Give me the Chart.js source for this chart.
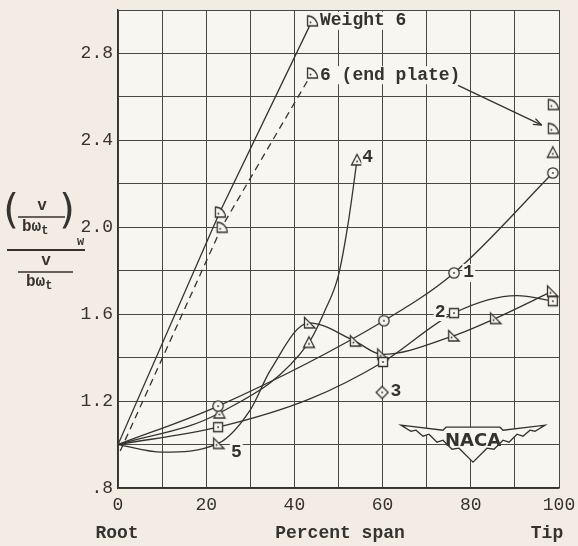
<!DOCTYPE html>
<html>
<head>
<meta charset="utf-8">
<script src="https://cdn.jsdelivr.net/npm/chart.js@4.4.1/dist/chart.umd.min.js"></script>
<style>
  html, body { margin: 0; padding: 0; background: #f2ece4; }
  #wrap { width: 578px; height: 546px; }
</style>
</head>
<body>
<div id="wrap"><canvas id="myChart" width="578" height="546"></canvas></div>
<script>
(() => {
  'use strict'

  // tick labels
  var x_tick_labels = [0, 20, 40, 60, 80, 100]
  var y_tick_labels = [0.8, 1.2, 1.6, 2.0, 2.4, 2.8]

  // Weight 6 (solid) and 6 with end plate (dashed)
  var w6_x = [0, 23.1, 44]
  var w6_y = [1.0, 2.07, 2.95]
  var ep_x = [0.5, 23.5, 44]
  var ep_y = [0.97, 2.0, 2.71]

  // isolated tip points
  var tip_x = 98.6
  var w6_tip = 2.565
  var ep_tip = 2.455
  var s4_tip = 2.345

  // weight 1 (circles)
  var s1_x = [0, 22.7, 60.3, 76.2, 98.6]
  var s1_y = [1.0, 1.177, 1.57, 1.79, 2.25]
  var s1_mx = [22.7, 60.3, 76.2, 98.6]
  var s1_my = [1.177, 1.57, 1.79, 2.25]

  // weight 2 (squares)
  var s2_x = [0, 22.7, 43.5, 60.1, 76.2, 90.5, 98.6]
  var s2_y = [1.0, 1.08, 1.21, 1.38, 1.605, 1.685, 1.66]
  var s2_mx = [22.7, 60.1, 76.2, 98.6]
  var s2_my = [1.08, 1.38, 1.605, 1.66]

  // weight 3 (diamond)
  var s3_x = [59.9]
  var s3_y = [1.24]

  // weight 4 (triangles)
  var s4_x = [0, 23, 43.3, 47, 50, 52.2, 54.2]
  var s4_y = [1.0, 1.145, 1.47, 1.62, 1.78, 2.02, 2.31]
  var s4_mx = [23, 43.3, 54.2]
  var s4_my = [1.145, 1.47, 2.31]

  // weight 5 (flags)
  var s5_x = [0, 10, 22.7, 30, 34.5, 43.3, 53.7, 59.9, 76, 85.5, 98.4]
  var s5_y = [1.0, 0.965, 1.005, 1.16, 1.34, 1.56, 1.476, 1.415, 1.50, 1.58, 1.705]
  var s5_mx = [22.7, 43.3, 53.7, 59.9, 76, 85.5, 98.4]
  var s5_my = [1.005, 1.56, 1.476, 1.415, 1.50, 1.58, 1.705]

  const INK = '#353330'
  const PLOT_BG = '#f8f6f1'
  const MONO = '"Liberation Mono", "DejaVu Sans Mono", monospace'

  const pts = (xs, ys) => xs.map((x, i) => ({ x: x, y: ys[i] }))

  // small canvases used as point styles
  function marker(kind) {
    const c = document.createElement('canvas')
    c.width = 16
    c.height = 16
    const g = c.getContext('2d')
    g.strokeStyle = INK
    g.fillStyle = PLOT_BG
    g.lineWidth = 1.3
    g.beginPath()
    if (kind === 'circle') {
      g.arc(8, 8, 5.2, 0, Math.PI * 2)
    } else if (kind === 'square') {
      g.rect(3.5, 3.5, 9, 9)
    } else if (kind === 'triangle') {
      g.moveTo(8, 2.5); g.lineTo(13.5, 13); g.lineTo(2.5, 13); g.closePath()
    } else if (kind === 'diamond') {
      g.moveTo(8, 2); g.lineTo(14, 8); g.lineTo(8, 14); g.lineTo(2, 8); g.closePath()
    } else if (kind === 'flag') {
      g.moveTo(3.5, 2.5); g.lineTo(3.5, 13); g.lineTo(14, 13); g.closePath()
    } else if (kind === 'quarter') {
      g.moveTo(3.5, 3); g.lineTo(3.5, 13); g.lineTo(13.5, 13)
      g.arc(3.5, 13, 10, 0, -Math.PI / 2, true)
      g.closePath()
    }
    g.fill()
    g.stroke()
    g.fillStyle = INK
    g.beginPath()
    const dx = (kind === 'flag' || kind === 'quarter') ? 6.5 : 8
    const dy = (kind === 'flag' || kind === 'quarter') ? 9.5 : (kind === 'triangle' ? 9.5 : 8)
    g.arc(dx, dy, 0.9, 0, Math.PI * 2)
    g.fill()
    return c
  }

  const mk = {
    circle: marker('circle'),
    square: marker('square'),
    triangle: marker('triangle'),
    diamond: marker('diamond'),
    flag: marker('flag'),
    quarter: marker('quarter')
  }

  function curve(data, dash, tension) {
    return {
      data: data,
      showLine: true,
      borderColor: INK,
      borderWidth: 1.3,
      borderDash: dash || [],
      pointRadius: 0,
      cubicInterpolationMode: tension ? 'default' : 'monotone',
      tension: tension ? 0 : 0.4,
      order: 2
    }
  }

  function marks(data, style) {
    return {
      data: data,
      showLine: false,
      pointStyle: style,
      pointRadius: 6,
      borderColor: INK,
      backgroundColor: PLOT_BG,
      order: 1
    }
  }

  // plot background, labels, axis titles and logo
  const decor = {
    id: 'decor',
    beforeDraw(chart) {
      const a = chart.chartArea
      const ctx = chart.ctx
      ctx.save()
      ctx.fillStyle = PLOT_BG
      ctx.fillRect(a.left, a.top, a.right - a.left, a.bottom - a.top)
      ctx.restore()
    },
    afterDatasetsDraw(chart) {
      const ctx = chart.ctx
      const xs = chart.scales.x
      const ys = chart.scales.y
      const px = v => xs.getPixelForValue(v)
      const py = v => ys.getPixelForValue(v)
      ctx.save()

      // NACA logo
      const cx = px(80.5), cy = py(1.02)
      const wing = [[-72, -15], [-30, -10], [-27, -13], [27, -13], [30, -10], [72, -15],
        [62, -9], [57, -10], [50, -4], [44, -6], [36, 2], [30, 0], [21, 9], [14, 8], [0, 22],
        [-14, 8], [-21, 9], [-30, 0], [-36, 2], [-44, -6], [-50, -4], [-57, -10], [-62, -9]]
      ctx.beginPath()
      wing.forEach((p, i) => {
        if (i === 0) ctx.moveTo(cx + p[0], cy + p[1])
        else ctx.lineTo(cx + p[0], cy + p[1])
      })
      ctx.closePath()
      ctx.fillStyle = PLOT_BG
      ctx.fill()
      ctx.strokeStyle = INK
      ctx.lineWidth = 1.3
      ctx.stroke()
      ctx.fillStyle = INK
      ctx.font = 'bold 18px "DejaVu Sans", sans-serif'
      ctx.textAlign = 'center'
      ctx.textBaseline = 'middle'
      ctx.fillText('NACA', cx, cy + 1)

      // arrow from "6 (end plate)" to its tip point
      const ax0 = px(77.1), ay0 = py(2.653), ax1 = px(96.1), ay1 = py(2.47)
      ctx.beginPath()
      ctx.moveTo(ax0, ay0)
      ctx.lineTo(ax1, ay1)
      ctx.stroke()
      const ang = Math.atan2(ay1 - ay0, ax1 - ax0)
      ctx.beginPath()
      ctx.moveTo(ax1, ay1)
      ctx.lineTo(ax1 - 9 * Math.cos(ang - 0.35), ay1 - 9 * Math.sin(ang - 0.35))
      ctx.moveTo(ax1, ay1)
      ctx.lineTo(ax1 - 9 * Math.cos(ang + 0.35), ay1 - 9 * Math.sin(ang + 0.35))
      ctx.stroke()

      // curve labels
      ctx.font = 'bold 18px ' + MONO
      ctx.textAlign = 'left'
      ctx.textBaseline = 'middle'
      const label = (t, x, y) => {
        const w = ctx.measureText(t).width
        ctx.fillStyle = PLOT_BG
        ctx.fillRect(px(x) - 1, py(y) - 9, w + 2, 18)
        ctx.fillStyle = INK
        ctx.fillText(t, px(x), py(y))
      }
      label('Weight 6', 45.8, 2.95)
      label('6 (end plate)', 45.8, 2.70)
      label('4', 55.4, 2.32)
      label('1', 78.3, 1.79)
      label('2', 71.8, 1.61)
      label('3', 61.8, 1.245)
      label('5', 25.6, 0.965)
      ctx.restore()
    },
    afterDraw(chart) {
      const ctx = chart.ctx
      ctx.save()
      ctx.fillStyle = INK
      ctx.strokeStyle = INK

      // x axis titles
      ctx.font = 'bold 18px ' + MONO
      ctx.textBaseline = 'middle'
      ctx.textAlign = 'center'
      ctx.fillText('Root', 117, 533)
      ctx.fillText('Percent span', 340, 533)
      ctx.fillText('Tip', 547, 533)

      // y axis title, a stacked fraction
      ctx.font = '40px "DejaVu Sans", sans-serif'
      ctx.fillText('(', 11, 213)
      ctx.fillText(')', 67, 213)
      ctx.font = 'bold 16px ' + MONO
      ctx.fillText('v', 42, 206)
      ctx.fillText('v', 46, 261)
      ctx.textAlign = 'left'
      const bw = ctx.measureText('bω').width
      ctx.fillText('bω', 22, 227)
      ctx.fillText('bω', 26, 282)
      ctx.font = 'bold 12px ' + MONO
      ctx.fillText('t', 22 + bw, 231)
      ctx.fillText('t', 26 + bw, 286)
      ctx.fillText('w', 77, 242)
      ctx.lineWidth = 1.5
      ctx.beginPath()
      ctx.moveTo(18, 217); ctx.lineTo(65, 217)
      ctx.moveTo(18, 272); ctx.lineTo(73, 272)
      ctx.stroke()
      ctx.lineWidth = 2
      ctx.beginPath()
      ctx.moveTo(7, 250); ctx.lineTo(85, 250)
      ctx.stroke()
      ctx.restore()
    }
  }

  const ctx = document.getElementById('myChart')
  // eslint-disable-next-line no-unused-vars
  const myChart = new Chart(ctx, {
    type: 'scatter',
    data: {
      datasets: [
        curve(pts(w6_x, w6_y), [], true),
        curve(pts(ep_x, ep_y), [7, 5], true),
        curve(pts(s1_x, s1_y)),
        curve(pts(s2_x, s2_y)),
        curve(pts(s4_x, s4_y)),
        curve(pts(s5_x, s5_y)),
        marks(pts(w6_x.slice(1), w6_y.slice(1)).concat([{ x: tip_x, y: w6_tip }]), mk.quarter),
        marks(pts(ep_x.slice(1), ep_y.slice(1)).concat([{ x: tip_x, y: ep_tip }]), mk.quarter),
        marks(pts(s1_mx, s1_my), mk.circle),
        marks(pts(s2_mx, s2_my), mk.square),
        marks(pts(s3_x, s3_y), mk.diamond),
        marks(pts(s4_mx, s4_my).concat([{ x: tip_x, y: s4_tip }]), mk.triangle),
        marks(pts(s5_mx, s5_my), mk.flag)
      ]
    },
    plugins: [decor],
    options: {
      responsive: false,
      animation: false,
      layout: { padding: { left: 0, right: 19, top: 10, bottom: 0 } },
      plugins: {
        legend: { display: false },
        tooltip: { enabled: false }
      },
      scales: {
        x: {
          type: 'linear',
          min: 0,
          max: 100,
          afterFit: s => {
            s.height = 58
            s.paddingLeft = 0
            s.paddingRight = 0
          },
          border: { display: true, color: INK, width: 1.5 },
          grid: { color: '#4a4744', lineWidth: 1, drawTicks: false },
          ticks: {
            stepSize: 10,
            padding: 6,
            color: INK,
            font: { family: MONO, size: 18 },
            maxRotation: 0,
            autoSkip: false,
            callback: v => x_tick_labels.includes(v) ? String(v) : ''
          }
        },
        y: {
          type: 'linear',
          min: 0.8,
          max: 3.0,
          afterFit: s => {
            s.width = 118
            s.paddingTop = 0
            s.paddingBottom = 0
          },
          border: { display: true, color: INK, width: 1.5 },
          grid: { color: '#4a4744', lineWidth: 1, drawTicks: false },
          ticks: {
            stepSize: 0.2,
            padding: 5,
            color: INK,
            font: { family: MONO, size: 18 },
            autoSkip: false,
            callback: v => {
              const r = Math.round(v * 10) / 10
              if (!y_tick_labels.some(t => Math.abs(t - r) < 1e-6)) return ''
              return r === 0.8 ? '.8' : r.toFixed(1)
            }
          }
        }
      }
    }
  })
})()
</script>
</body>
</html>
